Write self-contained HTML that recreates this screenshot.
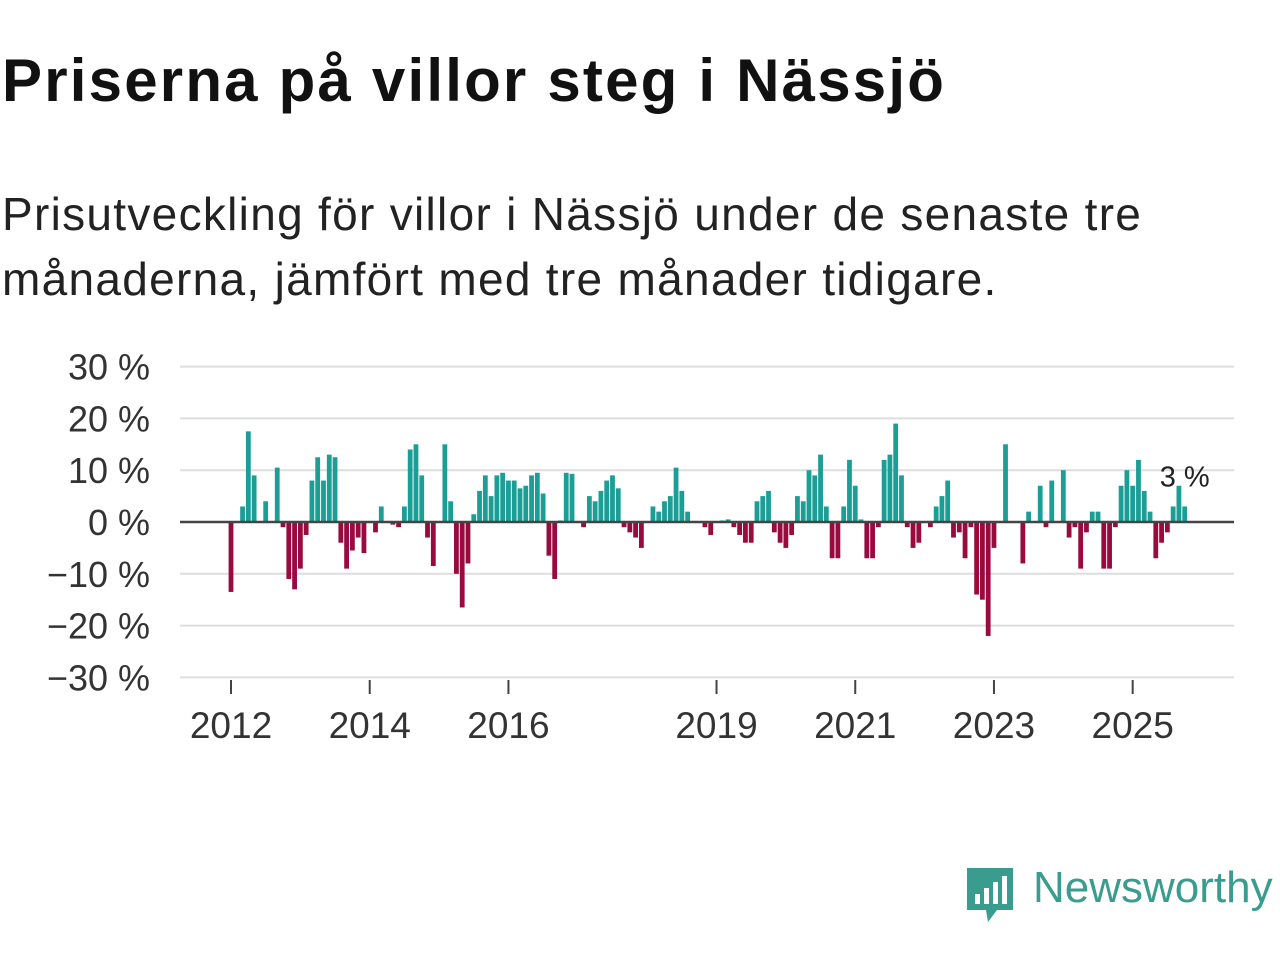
<!DOCTYPE html>
<html><head><meta charset="utf-8"><style>
body{margin:0;width:1280px;height:960px;background:#fff;font-family:"Liberation Sans",sans-serif;overflow:hidden;position:relative}
h1{position:absolute;left:2px;top:46px;margin:0;font-size:60px;font-weight:bold;color:#111;letter-spacing:2.2px;white-space:nowrap}
.sub{position:absolute;left:2px;top:182px;margin:0;font-size:46px;line-height:65px;color:#222;letter-spacing:1.3px;white-space:nowrap}
</style></head><body>
<h1>Priserna på villor steg i Nässjö</h1>
<p class="sub">Prisutveckling för villor i Nässjö under de senaste tre<br>månaderna, jämfört med tre månader tidigare.</p>
<svg id="chart" width="1280" height="960" style="position:absolute;left:0;top:0"></svg>
<div style="position:absolute;left:965px;top:866px;">
<svg width="50" height="58"><path d="M2 2h46v42H32l-9 12-2-12H2z" fill="#3a9c8f"/><rect x="10" y="28" width="5" height="10" fill="#fff"/><rect x="19" y="22" width="5" height="16" fill="#fff"/><rect x="28" y="16" width="5" height="22" fill="#fff"/><rect x="37" y="10" width="5" height="28" fill="#fff"/></svg>
<span style="position:absolute;left:68px;top:-3px;font-size:44px;color:#3a9c8f;white-space:nowrap">Newsworthy</span></div>
<script>
const yTicks=[30,20,10,0,-10,-20,-30];
const yTickLabels=["30 %","20 %","10 %","0 %","−10 %","−20 %","−30 %"];
const xTickYears=[2012,2014,2016,2019,2021,2023,2025];
const startYear=2012;
const values=[-13.5,0,3,17.5,9,0,4,0,10.5,-1,-11,-13,-9,-2.5,8,12.5,8,13,12.5,-4,-9,-5.5,-3,-6,0,-2,3,0,-0.5,-1,3,14,15,9,-3,-8.5,0,15,4,-10,-16.5,-8,1.5,6,9,5,9,9.5,8,8,6.5,7,9,9.5,5.5,-6.5,-11,0.3,9.5,9.3,0,-1,5,4,6,8,9,6.5,-1,-2,-3,-5,0,3,2,4,5,10.5,6,2,0,0,-1,-2.5,0,0.3,0.5,-1,-2.5,-4,-4,4,5,6,-2,-4,-5,-2.5,5,4,10,9,13,3,-7,-7,3,12,7,0.5,-7,-7,-1,12,13,19,9,-1,-5,-4,0,-1,3,5,8,-3,-2,-7,-1,-14,-15,-22,-5,0,15,0,0,-8,2,0,7,-1,8,0,10,-3,-1,-9,-2,2,2,-9,-9,-1,7,10,7,12,6,2,-7,-4,-2,3,7,3];
const lastLabel="3 %";
const svg=document.getElementById('chart');
const NS='http://www.w3.org/2000/svg';
const y=v=>522-v*5.18;
const x=m=>231+m*5.78;
function mk(t,a){const e=document.createElementNS(NS,t);for(const k in a)e.setAttribute(k,a[k]);svg.appendChild(e);return e;}
yTicks.forEach((t,i)=>{
 if(t!==0){const g=mk('line',{x1:180,x2:1234,y1:y(t),y2:y(t),stroke:'#ddd','stroke-width':2});
 
 }
 const l=mk('text',{x:150,y:y(t)+13,'text-anchor':'end','font-size':36,fill:'#333','font-family':'Liberation Sans, sans-serif'});
 l.textContent=yTickLabels[i];
 
 
});
values.forEach((v,i)=>{
 if(v===0)return;
 const b=mk('rect',{x:x(i)-2.4,width:4.8,y:v>0?y(v):y(0),height:Math.abs(y(v)-y(0)),fill:v>0?'#1a9e96':'#990a3e'});
 
 
});
const z=mk('line',{x1:180,x2:1234,y1:y(0),y2:y(0),stroke:'#444','stroke-width':2.5});


xTickYears.forEach(yr=>{
 const xx=x((yr-startYear)*12);
 const tk=mk('line',{x1:xx,x2:xx,y1:680,y2:694,stroke:'#444','stroke-width':2});
 
 
 const t=mk('text',{x:xx,y:738,'text-anchor':'middle','font-size':37,fill:'#333','font-family':'Liberation Sans, sans-serif'});
 t.textContent=yr;
 
 
});
const last=values.length-1;
const ll=mk('text',{x:x(last),y:y(values[last])-20,'text-anchor':'middle','font-size':29,fill:'#222','font-family':'Liberation Sans, sans-serif'});
ll.textContent=lastLabel;


</script>
</body></html>
